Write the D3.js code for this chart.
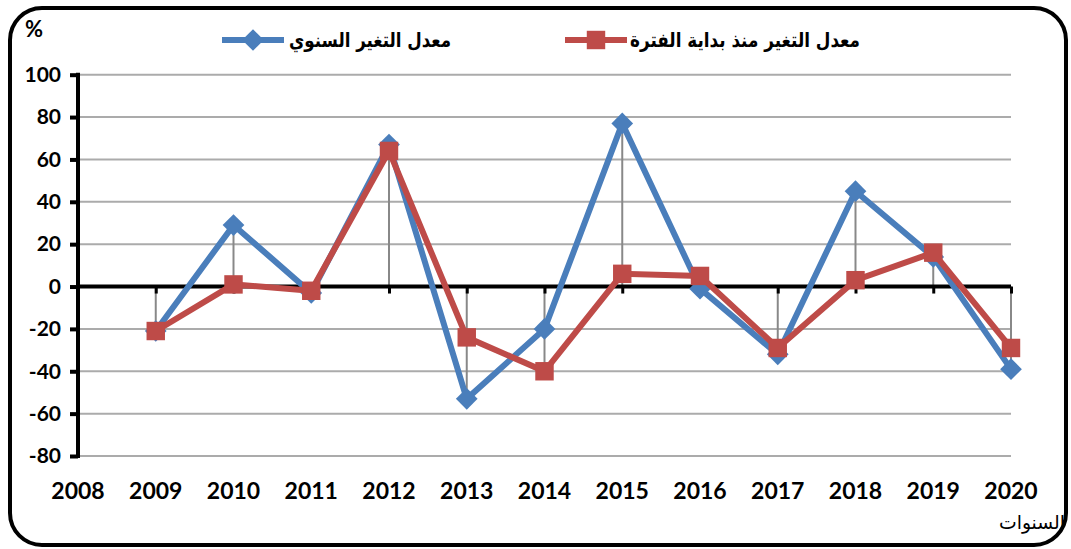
<!DOCTYPE html>
<html>
<head>
<meta charset="utf-8">
<script src="https://cdn.jsdelivr.net/npm/d3@7"></script>
<style>
  body { margin: 0; background: #fff; }
  text { font-family: Lato, "Liberation Sans", sans-serif; font-weight: bold; }
  .ar { font-family: "DejaVu Sans", sans-serif; font-weight: bold; }
</style>
</head>
<body>
<script>
// chart data
let years = [2009, 2010, 2011, 2012, 2013, 2014, 2015, 2016, 2017, 2018, 2019, 2020];
let annualRate = [-21, 29, -3, 67, -53, -20, 77, -1, -32, 45, 14, -39];
let sinceStartRate = [-21, 1, -2, 64, -24, -40, 6, 5, -29, 3, 16, -29];
let yTicks = [100, 80, 60, 40, 20, 0, -20, -40, -60, -80];
let xTicks = [2008, 2009, 2010, 2011, 2012, 2013, 2014, 2015, 2016, 2017, 2018, 2019, 2020];
let seriesNames = ["معدل التغير السنوي", "معدل التغير منذ بداية الفترة"];

let width = 1071;
let height = 549;
let blue = "#4a7ebb";
let red = "#be4b48";

let svg = d3.select("body").append("svg")
  .attr("width", width)
  .attr("height", height);

// rounded frame
svg.append("rect")
  .attr("x", 10).attr("y", 8)
  .attr("width", 1056).attr("height", 537)
  .attr("rx", 32).attr("ry", 32)
  .attr("fill", "none")
  .attr("stroke", "black")
  .attr("stroke-width", 4);

let x = d3.scaleLinear().domain([2008, 2020]).range([78, 1011]);
let y = d3.scaleLinear().domain([-80, 100]).range([456, 74.7]);

// gridlines
svg.append("g").selectAll("line.grid")
  .data(yTicks.filter(d => d !== 0))
  .enter().append("line")
  .classed("grid", true)
  .attr("x1", x(2008)).attr("x2", x(2020))
  .attr("y1", d => y(d)).attr("y2", d => y(d))
  .attr("stroke", "#ababab")
  .attr("stroke-width", 2);

// drop lines
svg.append("g").selectAll("line.drop")
  .data(years)
  .enter().append("line")
  .classed("drop", true)
  .attr("x1", d => x(d)).attr("x2", d => x(d))
  .attr("y1", y(0))
  .attr("y2", (d, i) => {
    let a = annualRate[i], b = sinceStartRate[i];
    return y(Math.abs(a) > Math.abs(b) ? a : b);
  })
  .attr("stroke", "#888")
  .attr("stroke-width", 2);

// y axis
let yAxis = svg.append("g")
  .attr("transform", `translate(${x(2008)},0)`)
  .call(d3.axisLeft(y).tickValues(yTicks).tickSize(8).tickPadding(9).tickFormat(d => String(d)));
yAxis.select(".domain").attr("stroke-width", 4).attr("d", `M0,${y(-80) + 2}V${y(100) - 2}`);
yAxis.selectAll(".tick line").attr("stroke-width", 4);
yAxis.selectAll(".tick text")
  .attr("font-size", 21)
  .attr("fill", "black")
  .style("font-family", "Lato, sans-serif");

// x axis along zero
let xAxis = svg.append("g")
  .attr("transform", `translate(0,${y(0)})`)
  .call(d3.axisBottom(x).tickValues(xTicks).tickSize(7).tickFormat(d => ""));
xAxis.select(".domain").attr("stroke-width", 4).attr("d", `M${x(2008)},0H${x(2020)}`);
xAxis.selectAll(".tick line").attr("stroke-width", 3);

// year labels at the bottom
svg.append("g").selectAll("text.year-label")
  .data(xTicks)
  .enter().append("text")
  .classed("year-label", true)
  .attr("x", d => x(d))
  .attr("y", 499)
  .attr("text-anchor", "middle")
  .attr("font-size", 23)
  .text(d => d);

let line = d3.line()
  .x(d => x(d.year))
  .y(d => y(d.value));

let drawSeries = (values, color, marker) => {
  let pts = years.map((yr, i) => ({ year: yr, value: values[i] }));
  svg.append("path")
    .datum(pts)
    .attr("d", line)
    .attr("fill", "none")
    .attr("stroke", color)
    .attr("stroke-width", 6)
    .attr("stroke-linejoin", "miter");
  svg.append("g").selectAll("path.marker")
    .data(pts)
    .enter().append("path")
    .attr("d", marker)
    .attr("transform", d => `translate(${x(d.year)},${y(d.value)})`)
    .attr("fill", color);
};

let diamond = d3.symbol().type(d3.symbolDiamond2).size(300)();
let square = d3.symbol().type(d3.symbolSquare).size(340)();

drawSeries(annualRate, blue, diamond);
drawSeries(sinceStartRate, red, square);

// legend
let legend = [
  { name: seriesNames[0], color: blue, marker: diamond, x0: 222, tx: 451, tw: 162 },
  { name: seriesNames[1], color: red, marker: square, x0: 565, tx: 860, tw: 230 }
];
let lg = svg.append("g").selectAll("g.legend")
  .data(legend)
  .enter().append("g")
  .classed("legend", true);
lg.append("line")
  .attr("x1", d => d.x0).attr("x2", d => d.x0 + 62)
  .attr("y1", 40).attr("y2", 40)
  .attr("stroke", d => d.color)
  .attr("stroke-width", 6);
lg.append("path")
  .attr("d", d => d.marker)
  .attr("transform", d => `translate(${d.x0 + 31},40)`)
  .attr("fill", d => d.color);
lg.append("text")
  .classed("ar", true)
  .attr("x", d => d.tx - d.tw)
  .attr("y", 47)
  .attr("text-anchor", "start")
  .attr("font-size", 20)
  .attr("textLength", d => d.tw)
  .attr("lengthAdjust", "spacingAndGlyphs")
  .text(d => d.name);

// axis titles
svg.append("text")
  .attr("x", 25).attr("y", 37)
  .attr("font-size", 22)
  .text("%");
svg.append("text")
  .classed("ar", true)
  .attr("x", 999).attr("y", 529)
  .attr("font-size", 19)
  .attr("textLength", 66)
  .attr("lengthAdjust", "spacingAndGlyphs")
  .style("font-weight", "normal")
  .text("السنوات");
</script>
</body>
</html>
